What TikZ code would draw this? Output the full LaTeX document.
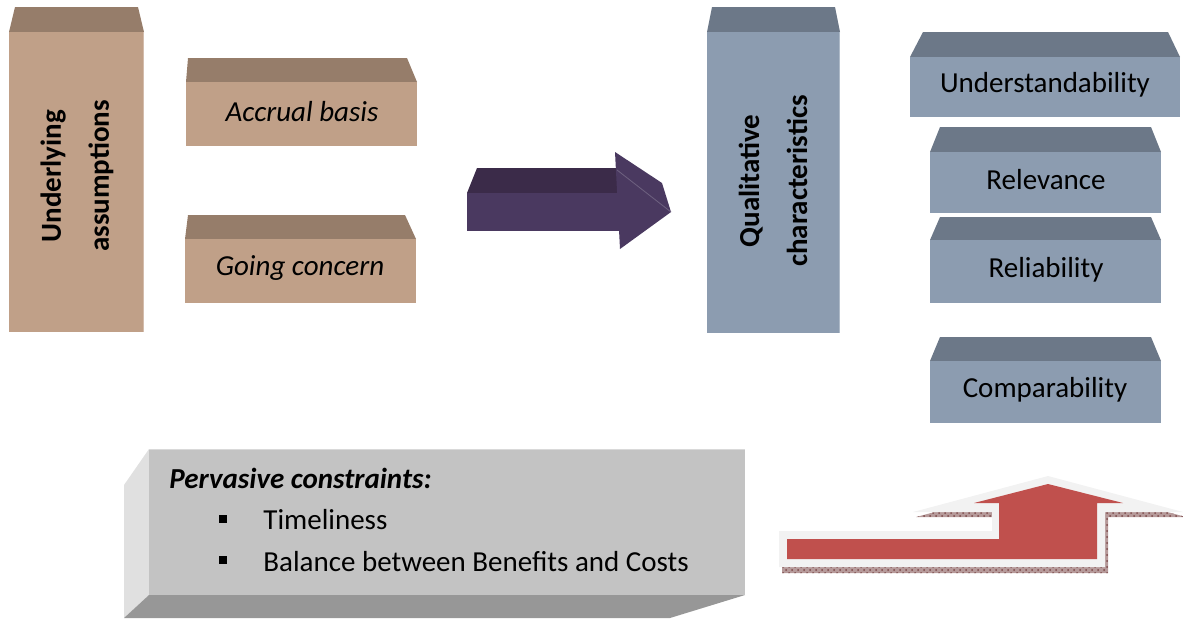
\documentclass[tikz,border=0pt]{standalone}
\usepackage{fontspec}
\setmainfont{Carlito}
\usetikzlibrary{calc,patterns}

\definecolor{tanfront}{HTML}{C0A088}
\definecolor{tantop}{HTML}{967D6A}
\definecolor{bluefront}{HTML}{8C9CB0}
\definecolor{bluetop}{HTML}{6C7888}
\definecolor{purplefront}{HTML}{4A3960}
\definecolor{purpletop}{HTML}{3B2B49}
\definecolor{greyfront}{HTML}{C3C3C3}
\definecolor{greyside}{HTML}{E0E0E0}
\definecolor{greybottom}{HTML}{979797}
\definecolor{arrowred}{HTML}{C0504D}
\definecolor{arrowrim}{HTML}{F2F2F2}
\definecolor{shadowbrown}{HTML}{7A4848}

\begin{document}
\begin{tikzpicture}
% pixel grid of the reference
[
    x=0.5pt,y=-0.5pt,
    lbl/.style={font=\fontsize{14.5}{17}\selectfont,inner sep=0pt},
    vlbl/.style={lbl,font=\fontsize{14.5}{24}\selectfont\bfseries,rotate=90,align=center}
]
\useasboundingbox (0,0) rectangle (1183,618);

% underlying assumptions
\fill[tantop] (15,7) -- (138,7) -- (144,32) -- (9,32) -- cycle;
\fill[tanfront] (9,32) rectangle (144,332);
\draw[tanfront!70!white] (143.5,32) -- (143.5,332);
\node[vlbl] (ua) at (77,176) {Underlying\\assumptions};

% accrual basis and going concern
\fill[tantop] (188,58) -- (407,58) -- (417,82) -- (186,82) -- cycle;
\fill[tanfront] (186,82) rectangle (417,146);
\node[lbl,font=\fontsize{14.5}{17}\selectfont\itshape] (acc) at (302,112) {Accrual basis};

\fill[tantop] (188,215) -- (405,215) -- (416,239) -- (185,239) -- cycle;
\fill[tanfront] (185,239) rectangle (416,303);
\node[lbl,font=\fontsize{14.5}{17}\selectfont\itshape] (goc) at (300,268) {Going concern};

% purple arrow
\fill[purpletop] (477,168) -- (617,168) -- (618,193) -- (467,193) -- cycle;
\fill[purplefront] (467,193) rectangle (619,231);
\fill[purplefront] (615,152) -- (662,183) -- (671,212) -- (620,249) -- cycle;
\draw[purplefront!80!white,thin] (617,170) -- (671,212);

% qualitative characteristics
\fill[bluetop] (712,7) -- (835,7) -- (840,32) -- (707,32) -- cycle;
\fill[bluefront] (707,32) rectangle (840,333);
\draw[bluefront!70!white] (839.5,32) -- (839.5,333);
\node[vlbl] (qc) at (773,181) {Qualitative\\characteristics};

% characteristics
\fill[bluetop] (923,32) -- (1168,32) -- (1180,57) -- (910,57) -- cycle;
\fill[bluefront] (910,57) rectangle (1180,117);
\node[lbl] (und) at (1045,85) {Understandability};

\fill[bluetop] (940,127) -- (1151,127) -- (1161,152) -- (930,152) -- cycle;
\fill[bluefront] (930,152) rectangle (1161,213);
\node[lbl] (rel) at (1046,180) {Relevance};

\fill[bluetop] (940,217) -- (1151,217) -- (1161,240) -- (930,240) -- cycle;
\fill[bluefront] (930,240) rectangle (1161,303);
\node[lbl] (rbl) at (1046,270) {Reliability};

\fill[bluetop] (940,337) -- (1151,337) -- (1161,361) -- (930,361) -- cycle;
\fill[bluefront] (930,361) rectangle (1161,423);
\node[lbl] (cmp) at (1045,390) {Comparability};

% pervasive constraints
\fill[greyside] (124,485) -- (149,449) -- (149,595) -- (124,618) -- cycle;
\fill[greybottom] (149,595) -- (745,595) -- (670,618) -- (124,618) -- cycle;
\fill[greyfront] (149,449) rectangle (745,595);
\draw[white!85!black] (149,449.5) -- (745,449.5);
\node[lbl,font=\fontsize{14.5}{17}\selectfont\bfseries\itshape,anchor=west] (pc) at (169,478) {Pervasive constraints:};
\node[fill=black,inner sep=0pt,minimum size=4pt] (bl1) at (223,519) {};
\node[fill=black,inner sep=0pt,minimum size=4pt] (bl2) at (223,560) {};
\node[lbl,anchor=west] (tl) at (263,520) {Timeliness};
\node[lbl,anchor=west] (bal) at (263,562) {Balance between Benefits and Costs};

% red arrow
\fill[shadowbrown!55!white] (782,536) -- (995,536) -- (995,517) -- (916,517) -- (1051,481)
  -- (1186,517) -- (1108,517) -- (1108,573) -- (782,573) -- cycle;
\fill[pattern=crosshatch dots,pattern color=shadowbrown] (782,536) -- (995,536) -- (995,517) -- (916,517) -- (1051,481)
  -- (1186,517) -- (1108,517) -- (1108,573) -- (782,573) -- cycle;
\fill[arrowrim] (779,531) -- (992,531) -- (992,512) -- (913,512) -- (1048,476)
  -- (1183,512) -- (1105,512) -- (1105,567) -- (779,567) -- cycle;
\fill[arrowred] (787,539) -- (999,539) -- (999,503) -- (974,503) -- (1048,484)
  -- (1123,503) -- (1097,503) -- (1097,559) -- (787,559) -- cycle;

\end{tikzpicture}
\end{document}
